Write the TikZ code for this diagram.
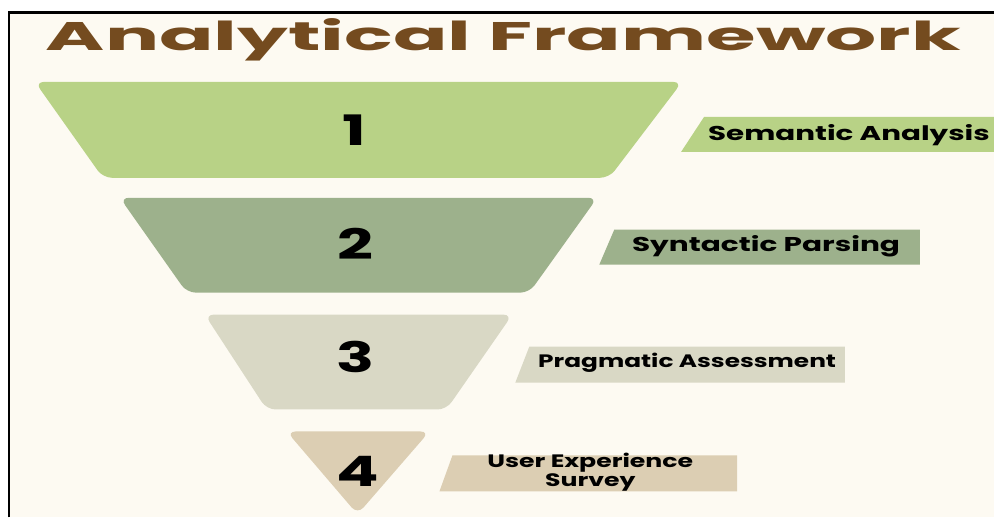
\documentclass[tikz,border=0pt]{standalone}
\usepackage{fontspec}
\usepackage{graphicx}
\setmainfont{Poppins}

\definecolor{paper}{HTML}{FDFAF2}
\definecolor{titlebrown}{HTML}{744B1F}
\definecolor{tierA}{HTML}{B8D286}
\definecolor{tierB}{HTML}{9DB18C}
\definecolor{tierC}{HTML}{D9D8C5}
\definecolor{tierD}{HTML}{DCCEB3}

\tikzset{
  tier/.style={rounded corners=9pt},
  num/.style={inner sep=0pt, font=\fontsize{42}{42}\selectfont\bfseries},
  tag/.style={inner sep=0pt, align=center, font=\fontsize{20}{19}\selectfont\bfseries},
  smalltag/.style={tag, font=\fontsize{18}{19}\selectfont\bfseries}
}
\newcommand{\wide}[2][1.5]{\scalebox{#1}[1]{#2}}

\begin{document}
\begin{tikzpicture}[x=1pt, y=-1pt]
  % page and frame
  \fill[white] (0,0) rectangle (995,518);
  \fill[paper] (8,12) rectangle (995,518);
  \draw[line width=2.5pt] (9,518) -- (9,12.5) -- (995,12.5);

  \node[inner sep=0pt, anchor=base, text=titlebrown] (title) at (504,51)
    {\resizebox{916pt}{32pt}{\fontsize{46}{50}\selectfont\bfseries Analytical Framework}};

  % funnel tiers
  \fill[tierA, tier] (359,82) -- (683,82) -- (610,178) -- (103,178) -- (35,82) -- cycle;
  \fill[tierB, tier] (359,198) -- (598,198) -- (530,293) -- (187,293) -- (120,198) -- cycle;
  \fill[tierC, tier] (359,315) -- (513,315) -- (447,410) -- (267,410) -- (205,315) -- cycle;
  \fill[tierD, tier] (359,432) -- (430,432) -- (358,515) -- (287,432) -- cycle;

  \node[num] (n1) at (355,130) {\wide{1}};
  \node[num] (n2) at (356,244) {\wide{2}};
  \node[num] (n3) at (356,357) {\wide{3}};
  \node[num] (n4) at (358,472) {\wide{4}};

  % side tags
  \fill[tierA] (705,117) -- (995,117) -- (995,152) -- (682,152) -- cycle;
  \fill[tierB] (615,230) -- (921,230) -- (921,265) -- (600,265) -- cycle;
  \fill[tierC] (530,347) -- (846,347) -- (846,383) -- (516,383) -- cycle;
  \fill[tierD] (453,456) -- (738,456) -- (738,492) -- (440,492) -- cycle;

  \node[tag] (l1) at (850,135) {\wide[1.47]{Semantic Analysis}};
  \node[tag] (l2) at (767,247) {\wide[1.48]{Syntactic Parsing}};
  \node[smalltag] (l3) at (688,363) {\wide[1.38]{Pragmatic Assessment}};
  \node[smalltag] (l4) at (591,473) {\wide[1.4]{User Experience}\\\wide[1.4]{Survey}};
\end{tikzpicture}
\end{document}
